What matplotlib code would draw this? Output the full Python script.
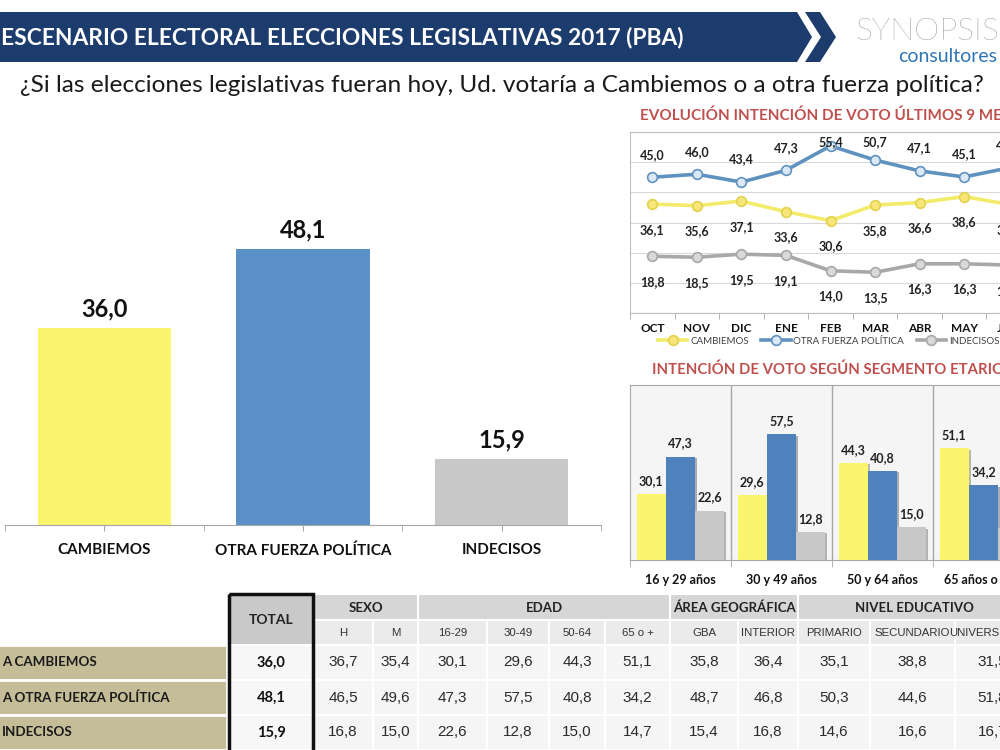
import numpy as np
import matplotlib
matplotlib.use('Agg')
import matplotlib.pyplot as plt
from matplotlib.patches import Polygon, Rectangle
import matplotlib.patheffects as pe

plt.rcParams['font.family'] = ['Lato', 'DejaVu Sans']

# ----------------------------------------------
# DATA
# ----------------------------------------------
categorias = ['CAMBIEMOS', 'OTRA FUERZA POLÍTICA', 'INDECISOS']
total = [36.0, 48.1, 15.9]

meses = ['OCT', 'NOV', 'DIC', 'ENE', 'FEB', 'MAR', 'ABR', 'MAY', 'JUN']
ev_cambiemos = [36.1, 35.6, 37.1, 33.6, 30.6, 35.8, 36.6, 38.6, 36.0]
ev_otra = [45.0, 46.0, 43.4, 47.3, 55.4, 50.7, 47.1, 45.1, 48.1]
ev_indecisos = [18.8, 18.5, 19.5, 19.1, 14.0, 13.5, 16.3, 16.3, 15.9]

edades = ['16 y 29 años', '30 y 49 años', '50 y 64 años', '65 años o más']
edad_cambiemos = [30.1, 29.6, 44.3, 51.1]
edad_otra = [47.3, 57.5, 40.8, 34.2]
edad_indecisos = [22.6, 12.8, 15.0, 14.7]

filas = ['A CAMBIEMOS', 'A OTRA FUERZA POLÍTICA', 'INDECISOS']
grupos = [('SEXO', 2), ('EDAD', 4), ('ÁREA GEOGRÁFICA', 2), ('NIVEL EDUCATIVO', 3)]
subcols = ['H', 'M', '16-29', '30-49', '50-64', '65 o +', 'GBA', 'INTERIOR',
           'PRIMARIO', 'SECUNDARIO', 'UNIVERSITARIO']
tabla = [[36.7, 35.4, 30.1, 29.6, 44.3, 51.1, 35.8, 36.4, 35.1, 38.8, 31.5],
         [46.5, 49.6, 47.3, 57.5, 40.8, 34.2, 48.7, 46.8, 50.3, 44.6, 51.8],
         [16.8, 15.0, 22.6, 12.8, 15.0, 14.7, 15.4, 16.8, 14.6, 16.6, 16.7]]

YEL, BLU, GRY = '#fbf46d', '#5b90c6', '#c8c8c8'
RED = '#c0504d'

def fmt(v):
    return ('%.1f' % v).replace('.', ',')

W, H = 1000, 750
fig = plt.figure(figsize=(10, 7.5), dpi=100)

def ax_px(l, t, r, b):
    return fig.add_axes([l / W, 1 - b / H, (r - l) / W, (b - t) / H])

# background layer (banner, logo, table)
bg = fig.add_axes([0, 0, 1, 1])
bg.set_xlim(0, W)
bg.set_ylim(H, 0)
bg.axis('off')

bg.add_patch(Polygon([(0, 12), (797, 12), (812, 37), (797, 62), (0, 62)], fc='#1d3c6e', ec='none'))
bg.add_patch(Polygon([(805, 12), (820, 12), (836, 37), (820, 62), (805, 62), (821, 37)], fc='#1d3c6e', ec='none'))
bg.text(1, 38, 'ESCENARIO ELECTORAL ELECCIONES LEGISLATIVAS 2017 (PBA)', color='white',
        fontsize=16.4, fontweight='bold', va='center', ha='left')
bg.text(855, 31, 'SYNOPSIS', fontsize=23, color='#666666', fontweight='light', va='center')
bg.text(898, 56, 'consultores', fontsize=14, color='#2e75b6', va='center')
bg.text(20, 86, '¿Si las elecciones legislativas fueran hoy, Ud. votaría a Cambiemos o a otra fuerza política?',
        fontsize=17.6, color='#1a1a1a', va='center')

# ----------------------------------------------
# MAIN BARS
# ----------------------------------------------
ax = ax_px(5, 200, 601, 525)
xs = np.arange(len(categorias))
ax.bar(xs, total, width=0.67, color=[YEL, BLU, GRY])
for x, v in zip(xs, total):
    ax.text(x, v + 2.9, fmt(v), ha='center', va='center', fontsize=17, fontweight='bold', color='#111')
ax.set_xlim(-0.5, 2.5)
ax.set_ylim(5.83, 55.6)
ax.set_yticks([])
for s in ['top', 'right', 'left']:
    ax.spines[s].set_visible(False)
ax.spines['bottom'].set_color('#a6a6a6')
ax.set_xticks(xs)
ax.set_xticklabels(categorias, fontsize=11, fontweight='bold', color='#111')
ax.set_xticks(np.arange(-0.5, 3, 1), minor=True)
ax.tick_params(axis='x', which='both', length=4, color='#a6a6a6', pad=9)
ax.patch.set_alpha(0)

# ----------------------------------------------
# EVOLUCION
# ----------------------------------------------
bg.text(640, 116, 'EVOLUCIÓN INTENCIÓN DE VOTO ÚLTIMOS 9 MESES', color=RED, fontsize=11.0,
        fontweight='bold', va='center')
axl = ax_px(630, 132, 1031, 313)
xm = np.arange(len(meses))
axl.plot(xm, ev_cambiemos, color='#f2ec6a', lw=2.6, marker='o', ms=7, mfc='#f7e57a', mec='#e3d24c',
         mew=1.2, label='CAMBIEMOS', zorder=3)
axl.plot(xm, ev_otra, color='#5f92bf', lw=2.6, marker='o', ms=7, mfc='#dbe8f5', mec='#5f92bf',
         mew=1.2, label='OTRA FUERZA POLÍTICA', zorder=3)
axl.plot(xm, ev_indecisos, color='#a8a8a8', lw=2.6, marker='o', ms=7, mfc='#d9d9d9', mec='#a8a8a8',
         mew=1.2, label='INDECISOS', zorder=3)
for x, a, b, c in zip(xm, ev_cambiemos, ev_otra, ev_indecisos):
    axl.text(x, min(b + 7.5, 56.7), fmt(b), ha='center', va='center', fontsize=9, fontweight='bold', color='#222')
    axl.text(x, a - 8.5, fmt(a), ha='center', va='center', fontsize=9, fontweight='bold', color='#222')
    axl.text(x, c - 8.5, fmt(c), ha='center', va='center', fontsize=9, fontweight='bold', color='#222')
axl.set_xlim(-0.5, 8.5)
axl.set_ylim(0, 60)
axl.set_yticks(np.arange(0, 61, 10))
axl.yaxis.grid(True, color='#d9d9d9', lw=0.8)
axl.set_axisbelow(True)
axl.tick_params(axis='y', length=0, labelleft=False)
for s in axl.spines.values():
    s.set_color('#bfbfbf')
axl.set_xticks(xm)
axl.set_xticklabels(meses, fontsize=8.5, fontweight='bold', color='#111')
axl.set_xticks(np.arange(-0.5, 9, 1), minor=True)
axl.tick_params(axis='x', which='major', length=0, pad=7)
axl.tick_params(axis='x', which='minor', length=4, color='#a6a6a6')
axl.legend(loc='center left', bbox_to_anchor=(658 / W, 1 - 341 / H), bbox_transform=fig.transFigure,
           ncol=3, frameon=False, fontsize=7, handlelength=3.0, handletextpad=0.3, columnspacing=1.3,
           borderpad=0, borderaxespad=0, labelcolor='#404040')

# ----------------------------------------------
# SEGMENTO ETARIO
# ----------------------------------------------
bg.text(652, 370, 'INTENCIÓN DE VOTO SEGÚN SEGMENTO ETARIO', color=RED, fontsize=10.7,
        fontweight='bold', va='center')
axa = ax_px(630, 385, 1034, 560)
axa.set_facecolor('#f5f5f5')
xg = np.arange(len(edades))
shadow = [pe.SimplePatchShadow(offset=(1.5, -1), alpha=0.35), pe.Normal()]
for off, vals, col in [(-0.29, edad_cambiemos, YEL), (0, edad_otra, '#4f81bd'), (0.29, edad_indecisos, GRY)]:
    bars = axa.bar(xg + off, vals, width=0.285, color=col, zorder=3)
    for b in bars:
        b.set_path_effects(shadow)
    for x, v in zip(xg + off, vals):
        axa.text(x, v + 6, fmt(v), ha='center', va='center', fontsize=9, fontweight='bold', color='#222', zorder=4)
for xb in [0.5, 1.5, 2.5]:
    axa.axvline(xb, color='#a6a6a6', lw=1)
axa.set_xlim(-0.5, 3.5)
axa.set_ylim(0, 80)
axa.set_yticks([])
for s in axa.spines.values():
    s.set_color('#a6a6a6')
axa.set_xticks(xg)
axa.set_xticklabels(edades, fontsize=9, fontweight='bold', color='#111')
axa.set_xticks(np.arange(-0.5, 4, 1), minor=True)
axa.tick_params(axis='x', which='major', length=0, pad=10)
axa.tick_params(axis='x', which='minor', length=5, color='#a6a6a6')

# ----------------------------------------------
# TABLA
# ----------------------------------------------
col_x = [229, 313, 373, 418, 487, 549, 605, 670, 738, 798, 870, 955, 1030]
row_y = [645, 680, 715, 750]

# row labels
for i, lab in enumerate(filas):
    bg.add_patch(Rectangle((-5, row_y[i]), 232, row_y[i + 1] - row_y[i], fc='#c4bd97', ec='white', lw=2))
    bg.text(2, (row_y[i] + row_y[i + 1]) / 2, lab, fontsize=9.6, fontweight='bold', color='#1a1a1a',
            va='center', ha='left')

# headers
bg.add_patch(Rectangle((col_x[0], 594), col_x[1] - col_x[0], 51, fc='#c9c9c9', ec='none'))
bg.text((col_x[0] + col_x[1]) / 2, 620, 'TOTAL', fontsize=10, fontweight='bold', color='#222',
        ha='center', va='center')
k = 1
for name, n in grupos:
    x0, x1 = col_x[k], col_x[k + n]
    bg.add_patch(Rectangle((x0, 594), x1 - x0, 26, fc='#d6d6d6', ec='white', lw=1.5))
    bg.text((x0 + x1) / 2, 608, name, fontsize=9.5, fontweight='bold', color='#222', ha='center', va='center')
    k += n
for j, sc in enumerate(subcols):
    x0, x1 = col_x[j + 1], col_x[j + 2]
    bg.add_patch(Rectangle((x0, 620), x1 - x0, 25, fc='#ebebeb', ec='white', lw=1.5))
    bg.text((x0 + x1) / 2, 633, sc, fontsize=8.2, family='Liberation Sans', color='#333',
            ha='center', va='center')

# cells
for i in range(len(filas)):
    yc = (row_y[i] + row_y[i + 1]) / 2
    bg.add_patch(Rectangle((col_x[0], row_y[i]), col_x[1] - col_x[0], 35, fc='#f7f7f7', ec='white', lw=1.5))
    bg.text((col_x[0] + col_x[1]) / 2, yc, fmt(total[i]), fontsize=10.5, fontweight='bold', color='#111',
            ha='center', va='center')
    for j, v in enumerate(tabla[i]):
        x0, x1 = col_x[j + 1], col_x[j + 2]
        bg.add_patch(Rectangle((x0, row_y[i]), x1 - x0, 35, fc='#f5f5f5', ec='white', lw=1.5))
        bg.text((x0 + x1) / 2, yc, fmt(v), fontsize=11, family='Liberation Sans', color='#2b2b2b',
                ha='center', va='center')

bg.add_patch(Rectangle((col_x[0], 594), col_x[1] - col_x[0], 170, fc='none', ec='#111', lw=2.5, zorder=5))

fig.savefig('out.png', dpi=100, facecolor='white')
